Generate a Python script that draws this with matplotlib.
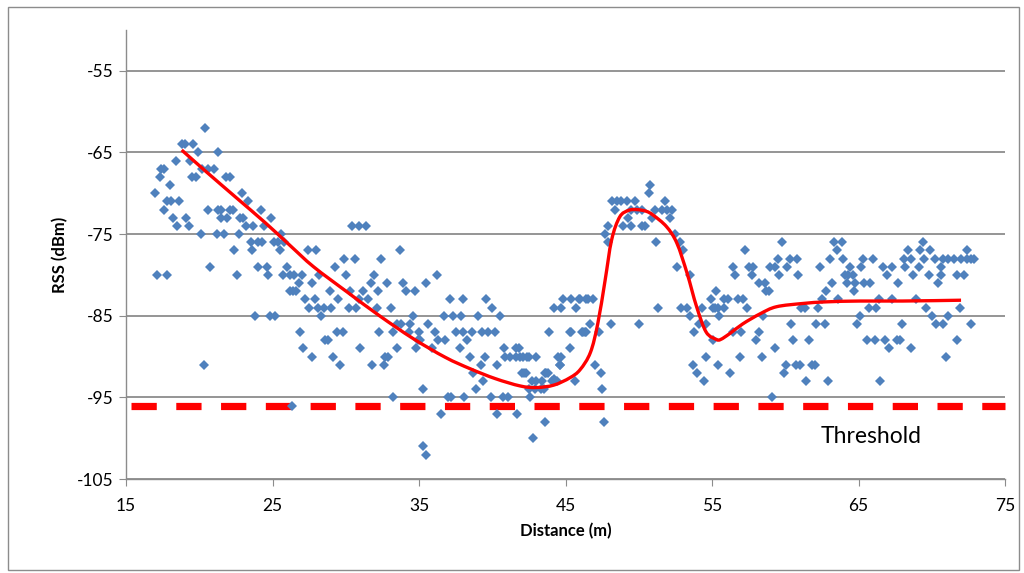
import matplotlib
matplotlib.use("Agg")
import matplotlib.pyplot as plt
from matplotlib.patches import Rectangle, PathPatch
from matplotlib.path import Path

plt.rcParams['font.family'] = ['Lato', 'DejaVu Sans']
plt.rcParams['axes.unicode_minus'] = False

# measured RSS samples (distance m, RSS dBm)
dist = [
    17.0, 17.1, 17.3, 17.4, 17.6, 17.6, 17.8, 17.8, 18.0, 18.1, 18.2, 18.4, 18.5, 18.6, 18.8, 19.0,
    19.1, 19.3, 19.4, 19.5, 19.6, 19.8, 19.9, 20.1, 20.2, 20.3, 20.4, 20.6, 20.6, 20.7, 21.0, 21.2,
    21.3, 21.3, 21.5, 21.5, 21.7, 21.8, 21.9, 22.1, 22.1, 22.3, 22.4, 22.6, 22.7, 22.8, 22.9, 23.0,
    23.2, 23.3, 23.5, 23.6, 23.7, 23.8, 24.0, 24.0, 24.2, 24.3, 24.4, 24.6, 24.7, 24.8, 24.9, 25.1,
    25.2, 25.4, 25.5, 25.6, 25.7, 25.8, 26.0, 26.2, 26.3,
    26.2, 26.5, 27.0, 26.8, 26.4, 26.6, 26.9, 27.1, 27.2, 27.4, 27.5, 27.7, 27.7, 27.9, 28.0, 28.1,
    28.2, 28.3, 28.5, 28.6, 28.8, 28.9, 29.0, 29.1, 29.3, 29.4, 29.5, 29.6, 29.8, 29.9, 30.0, 30.2,
    30.3, 30.4, 30.6, 30.7, 30.9, 30.9, 31.0, 31.2, 31.4, 31.5, 31.7, 31.8, 31.9, 32.1, 32.2, 32.3,
    32.4, 32.6, 32.7, 32.8, 32.9, 33.1, 33.2, 33.2, 33.5, 33.5, 33.7, 33.8, 33.9, 34.1, 34.3, 34.4,
    34.6, 34.7, 34.8, 34.9, 35.0, 35.1, 35.3, 35.3, 35.5, 35.5, 35.6,
    36.1, 35.9, 36.25, 36.3, 36.5, 36.7, 36.8, 37.0, 37.1, 37.2, 37.3, 37.5, 37.8, 37.9, 38.0, 38.0,
    38.1, 38.3, 38.5, 38.6, 38.7, 38.9, 39.05, 39.2, 39.3, 39.4, 39.5, 39.6, 39.7, 39.9, 40.0, 40.2,
    40.3, 40.35, 40.5, 40.7, 40.8, 40.9, 41.1, 41.2, 41.6, 41.6, 41.7, 41.8, 41.9, 42.0, 42.3, 42.35,
    42.6, 42.7, 42.8, 42.9, 43.0, 43.0, 43.4, 43.5, 43.6, 43.6, 43.8, 43.9, 44.1, 44.2, 44.4, 44.5,
    44.6, 44.7, 42.1, 42.5, 42.2, 43.7, 44.2, 42.5, 43.3, 44.7, 44.6,
    45.3, 45.4, 45.4, 45.65, 45.7, 45.9, 46.0, 46.2, 46.4, 46.4, 46.55, 46.7, 46.9, 47.0, 47.3, 47.4,
    47.5, 47.6, 47.7, 47.9, 47.9, 48.1, 48.15, 48.4, 48.5, 48.8, 48.95, 49.2, 49.3, 49.5, 49.5, 49.75,
    49.86, 50.0, 50.2, 50.2, 50.4, 50.7, 50.8, 50.9, 51.1, 51.2, 51.3, 51.6, 51.8, 51.9, 52.1, 52.25,
    52.5, 52.6, 52.8, 52.9, 53.0, 53.3, 53.5, 53.5, 53.7, 53.8, 53.95, 54.1, 54.3, 54.45, 54.6, 54.6,
    54.9, 55.1, 55.1, 55.3, 55.4, 55.4, 44.85, 45.3, 46.1, 46.3,
    55.2, 55.5, 55.8, 55.8, 56.1, 56.2, 56.4, 56.45, 56.6, 56.8, 56.9, 57.0, 57.1, 57.25, 57.4, 57.5,
    57.7, 57.8, 58.0, 58.2, 58.2, 58.4, 58.5, 58.6, 58.7, 58.9, 58.96, 59.1, 59.3, 59.3, 59.5, 59.6,
    59.75, 59.9, 60.05, 60.1, 60.3, 60.4, 60.55, 60.7, 60.8, 60.9, 61.0, 61.1, 61.35, 61.4, 61.6, 61.8,
    62.0, 62.1, 62.25, 62.4, 62.5, 62.7, 62.8, 62.9, 63.05, 63.2, 63.3, 63.5, 63.6, 63.85, 63.96, 64.1,
    64.2, 64.3,
    64.42, 64.65, 64.7, 64.76, 64.9, 65.1, 65.2, 65.3, 65.4, 65.6, 65.7, 65.8, 65.97, 66.1, 66.2, 66.4,
    66.5, 66.7, 66.8, 66.97, 67.1, 67.3, 67.3, 67.6, 67.7, 67.8, 67.95, 68.1, 68.2, 68.4, 68.6, 68.6,
    68.7, 68.9, 69.1, 69.2, 69.4, 69.5, 69.6, 69.8, 69.9, 70.0, 70.2, 70.3, 70.4, 70.6, 70.6, 70.8,
    70.8, 71.0, 71.1, 71.1, 71.5, 71.7, 71.7, 71.9, 72.0, 72.2, 72.4, 72.4, 72.7, 72.7, 72.9,
]
rss = [
    -70, -80, -68, -67, -67, -72, -71, -80, -69, -71, -73, -66, -74, -71, -64, -64,
    -73, -74, -66, -68, -64, -68, -65, -75, -67, -91, -62, -67, -72, -79, -67, -75,
    -65, -72, -72, -73, -75, -68, -73, -68, -72, -72, -77, -80, -75, -73, -70, -73,
    -74, -71, -76, -77, -74, -85, -76, -79, -72, -76, -74, -79, -80, -85, -73, -76,
    -85, -76, -77, -75, -80, -76, -79, -82, -96,
    -80, -80, -80, -81, -82, -82, -87, -89, -83, -77, -84, -81, -90, -83, -77, -84,
    -80, -85, -84, -88, -88, -82, -84, -90, -79, -87, -83, -91, -87, -78, -80, -84,
    -82, -74, -78, -84, -74, -83, -89, -82, -74, -83, -81, -91, -80, -84, -82, -87,
    -78, -91, -90, -81, -90, -84, -87, -95, -86, -89, -77, -86, -81, -82, -87, -86,
    -85, -82, -89, -88, -87, -88, -94, -101, -81, -102, -86,
    -87, -89, -80, -88, -97, -85, -88, -95, -83, -95, -85, -87, -89, -85, -83, -87,
    -95, -88, -90, -87, -92, -94, -85, -91, -87, -93, -90, -83, -87, -95, -84, -87,
    -91, -97, -85, -95, -89, -90, -95, -90, -89, -90, -97, -89, -90, -92, -92, -90,
    -95, -93, -100, -94, -90, -93, -93, -94, -92, -98, -92, -87, -93, -84, -93, -90,
    -91, -84, -90, -90, -92, -92, -92.7, -94, -94, -90, -91,
    -89, -83, -87, -93, -84, -83, -83, -87, -83, -87, -83, -86, -83, -91, -87, -92,
    -94, -98, -75, -74, -76, -86, -71, -72, -71, -71, -74, -71, -73, -72, -74, -71,
    -72, -86, -72, -74, -74, -70, -69, -73, -72, -76, -84, -72, -71, -72, -73, -72,
    -75, -79, -76, -84, -77, -84, -80, -85, -91, -87, -92, -86, -84, -93, -86, -90,
    -83, -84, -88, -82, -84, -91, -83, -87, -87, -87,
    -84, -85, -83, -84, -83, -92, -87, -79, -80, -83, -90, -87, -83, -77, -84, -79,
    -80, -79, -88, -81, -87, -90, -85, -81, -82, -82, -79, -95, -79, -89, -78, -80,
    -76, -92, -91, -79, -78, -86, -88, -91, -78, -80, -91, -84, -84, -93, -88, -91,
    -91, -86, -84, -79, -83, -86, -82, -93, -78, -81, -76, -77, -83, -76, -78, -80,
    -81, -80,
    -79, -80, -82, -81, -86, -85, -79, -78, -81, -88, -84, -81, -78, -88, -84, -83,
    -93, -79, -88, -80, -89, -79, -83, -88, -81, -88, -86, -78, -79, -77, -78, -89,
    -80, -83, -79, -77, -76, -78, -84, -80, -77, -85, -78, -86, -81, -79, -80, -78,
    -86, -90, -78, -85, -78, -80, -88, -84, -78, -80, -77, -78, -78, -86, -78,
]

# trend line
trend_x = [18.8, 20.5, 22.5, 24.5, 26.2, 27.8, 30.1, 32.3, 34.6, 36.8, 38.5, 40.2, 41.9, 43.0,
           44.2, 45.3, 46.0, 46.7, 47.2, 47.7, 48.15, 48.7, 49.3, 49.86, 50.5, 51.0, 51.9, 52.6,
           53.3, 53.95, 54.6, 55.3, 55.6, 56.2, 57.1, 58.3, 59.4, 61.2, 62.8, 65.1, 68.0, 72.0]
trend_y = [-64.7, -67.4, -70.5, -73.6, -76.4, -79.0, -82.1, -85.0, -87.8, -90.1, -91.5, -92.7,
           -93.6, -93.8, -93.5, -92.6, -91.6, -89.5, -86.0, -80.7, -75.7, -72.9, -72.1, -72.0,
           -72.2, -72.7, -74.1, -76.1, -79.8, -83.9, -87.0, -87.9, -87.9, -87.2, -86.0, -84.75,
           -83.9, -83.5, -83.3, -83.2, -83.2, -83.1]

threshold = -96
x_ticks = [15, 25, 35, 45, 55, 65, 75]
y_ticks = [-105, -95, -85, -75, -65, -55]

fig = plt.figure(figsize=(10.24, 5.73), dpi=100)
ax = fig.add_axes([126/1024, 1-479/573, (1005-126)/1024, (479-30)/573])

ax.set_xlim(15, 75)
ax.set_ylim(-105, -50)
ax.set_xticks(x_ticks)
ax.set_yticks(y_ticks)
ax.grid(axis='y', color='#8c8c8c', linewidth=1.3)
ax.set_axisbelow(True)
for s in ['top', 'right']:
    ax.spines[s].set_visible(False)
for s in ['left', 'bottom']:
    ax.spines[s].set_color('#8c8c8c')
    ax.spines[s].set_linewidth(1.0)
ax.tick_params(axis='both', direction='out', length=5, color='#8c8c8c', labelsize=12.5, pad=4)
ax.tick_params(axis='x', pad=9)

ax.plot(dist, rss, linestyle='none', marker='D', markersize=4.6, color='#4f81bd',
        markeredgewidth=0, zorder=3)

# smoothed trend line (cubic Bezier segments through the read points, like a smoothed chart line)
n = len(trend_x)
verts = [(trend_x[0], trend_y[0])]
codes = [Path.MOVETO]
for i in range(n - 1):
    x0, y0 = trend_x[max(i - 1, 0)], trend_y[max(i - 1, 0)]
    x1, y1 = trend_x[i], trend_y[i]
    x2, y2 = trend_x[i + 1], trend_y[i + 1]
    x3, y3 = trend_x[min(i + 2, n - 1)], trend_y[min(i + 2, n - 1)]
    c1 = (x1 + (x2 - x0) / 6.0, y1 + (y2 - y0) / 6.0)
    c2 = (x2 - (x3 - x1) / 6.0, y2 - (y3 - y1) / 6.0)
    verts += [c1, c2, (x2, y2)]
    codes += [Path.CURVE4, Path.CURVE4, Path.CURVE4]
ax.add_patch(PathPatch(Path(verts, codes), facecolor='none', edgecolor='#ff0000',
                       linewidth=2.4, zorder=4))

ax.plot([15.35, 75], [threshold, threshold], color='#ff0000', linewidth=5.2,
        dashes=(3.5, 2.7), solid_capstyle='butt', dash_capstyle='butt', zorder=2,
        clip_on=False)

ax.text(62.4, -99.8, 'Threshold', fontsize=16.5, va='center', ha='left')
ax.set_xlabel('Distance (m)', fontsize=12, fontweight='bold', labelpad=6)
ax.set_ylabel('RSS (dBm)', fontsize=12, fontweight='bold', labelpad=6)

fig.patches.append(Rectangle((8/1024, 1-570/573), 1011/1024, 563/573, transform=fig.transFigure,
                             fill=False, edgecolor='#8c8c8c', linewidth=1.0))

fig.savefig('out.png', dpi=100)
